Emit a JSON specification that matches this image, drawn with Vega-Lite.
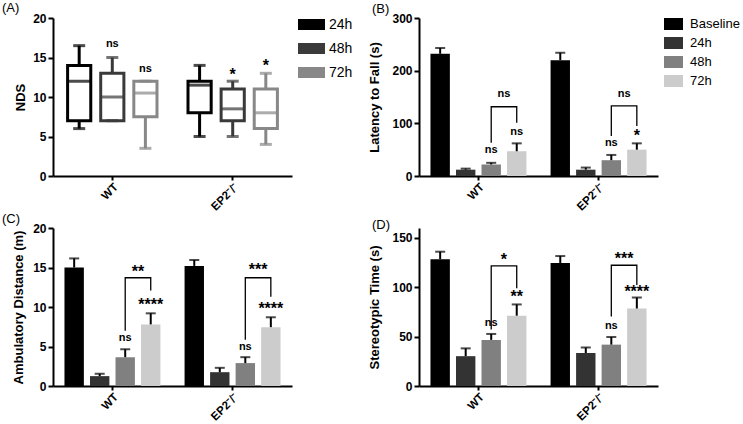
{
  "$schema": "https://vega.github.io/schema/vega-lite/v6.json",
  "background": "white",
  "padding": {"left": 2, "top": 2, "right": 0, "bottom": 0},
  "columns": 2,
  "spacing": {"row": 52, "column": 127},
  "bounds": "flush",
  "resolve": {"scale": {"color": "independent", "xOffset": "independent"}, "legend": {"color": "independent"}},
  "config": {
    "font": "Liberation Sans",
    "view": {"stroke": null},
    "axis": {"grid": false, "domainColor": "black", "domainWidth": 2, "tickColor": "black", "tickWidth": 2, "tickSize": 5, "labelColor": "black", "labelFont": "Liberation Sans", "labelFontWeight": "bold", "labelFontSize": 12, "labelPadding": 2, "labelOverlap": false, "titleFont": "Liberation Sans", "titleFontWeight": "bold", "titleFontSize": 13, "titleColor": "black", "titlePadding": 6},
    "axisX": {"tickSize": 4, "labelPadding": 1, "labelFontSize": 11.5},
    "title": {"font": "Liberation Sans", "fontSize": 13, "fontWeight": "normal", "color": "black", "anchor": "start", "frame": "group", "offset": -4},
    "legend": {"labelFont": "Liberation Sans", "labelColor": "black"}
  },
  "datasets": {
    "boxA": [
      {"g": "WT", "t": "24h", "min": 6, "q1": 7, "med": 12, "q3": 14, "max": 16.5},
      {"g": "WT", "t": "48h", "min": 7, "q1": 7, "med": 10, "q3": 13, "max": 15},
      {"g": "WT", "t": "72h", "min": 3.5, "q1": 7.5, "med": 10.5, "q3": 12, "max": 12},
      {"g": "EP2⁻/⁻", "t": "24h", "min": 5, "q1": 8, "med": 11.5, "q3": 12, "max": 14},
      {"g": "EP2⁻/⁻", "t": "48h", "min": 5, "q1": 7, "med": 8.5, "q3": 11, "max": 12},
      {"g": "EP2⁻/⁻", "t": "72h", "min": 4, "q1": 6, "med": 8, "q3": 11, "max": 13}
    ],
    "annA": [
      {"g": "WT", "t": "48h", "y": 16.7, "label": "ns"},
      {"g": "WT", "t": "72h", "y": 13.5, "label": "ns"},
      {"g": "EP2⁻/⁻", "t": "48h", "y": 13.35, "label": "*"},
      {"g": "EP2⁻/⁻", "t": "72h", "y": 14.4, "label": "*"}
    ],
    "barB": [
      {"g": "WT", "t": "Baseline", "mean": 232, "upper": 243},
      {"g": "WT", "t": "24h", "mean": 12, "upper": 14},
      {"g": "WT", "t": "48h", "mean": 22, "upper": 25},
      {"g": "WT", "t": "72h", "mean": 47, "upper": 62},
      {"g": "EP2⁻/⁻", "t": "Baseline", "mean": 220, "upper": 234},
      {"g": "EP2⁻/⁻", "t": "24h", "mean": 12, "upper": 16},
      {"g": "EP2⁻/⁻", "t": "48h", "mean": 30, "upper": 40},
      {"g": "EP2⁻/⁻", "t": "72h", "mean": 50, "upper": 62}
    ],
    "annB": [
      {"g": "WT", "t": "48h", "y": 49, "label": "ns", "cmp": "bar"},
      {"g": "WT", "t": "72h", "y": 84, "label": "ns", "cmp": "bar"},
      {"g": "WT", "t": "72h", "y": 155, "label": "ns", "cmp": "bracket"},
      {"g": "EP2⁻/⁻", "t": "48h", "y": 62, "label": "ns", "cmp": "bar"},
      {"g": "EP2⁻/⁻", "t": "72h", "y": 84, "label": "*", "cmp": "bar"},
      {"g": "EP2⁻/⁻", "t": "72h", "y": 155, "label": "ns", "cmp": "bracket"}
    ],
    "brB": [
      {"g": "WT", "t": "48h", "y": 63, "ord": 1},
      {"g": "WT", "t": "48h", "y": 131.5, "ord": 2},
      {"g": "WT", "t": "72h", "y": 131.5, "ord": 3},
      {"g": "WT", "t": "72h", "y": 101, "ord": 4},
      {"g": "EP2⁻/⁻", "t": "48h", "y": 76, "ord": 1},
      {"g": "EP2⁻/⁻", "t": "48h", "y": 133, "ord": 2},
      {"g": "EP2⁻/⁻", "t": "72h", "y": 133, "ord": 3},
      {"g": "EP2⁻/⁻", "t": "72h", "y": 95, "ord": 4}
    ],
    "barC": [
      {"g": "WT", "t": "Baseline", "mean": 15.0, "upper": 16.15},
      {"g": "WT", "t": "24h", "mean": 1.25, "upper": 1.55},
      {"g": "WT", "t": "48h", "mean": 3.65, "upper": 4.65},
      {"g": "WT", "t": "72h", "mean": 7.8, "upper": 9.2},
      {"g": "EP2⁻/⁻", "t": "Baseline", "mean": 15.2, "upper": 15.95},
      {"g": "EP2⁻/⁻", "t": "24h", "mean": 1.75, "upper": 2.3},
      {"g": "EP2⁻/⁻", "t": "48h", "mean": 2.9, "upper": 3.65},
      {"g": "EP2⁻/⁻", "t": "72h", "mean": 7.45, "upper": 8.7}
    ],
    "annC": [
      {"g": "WT", "t": "48h", "y": 6.1, "label": "ns", "cmp": "bar"},
      {"g": "WT", "t": "72h", "y": 10.7, "label": "****", "cmp": "bar"},
      {"g": "WT", "t": "72h", "y": 15.0, "label": "**", "cmp": "bracket"},
      {"g": "EP2⁻/⁻", "t": "48h", "y": 5.0, "label": "ns", "cmp": "bar"},
      {"g": "EP2⁻/⁻", "t": "72h", "y": 10.2, "label": "****", "cmp": "bar"},
      {"g": "EP2⁻/⁻", "t": "72h", "y": 15.2, "label": "***", "cmp": "bracket"}
    ],
    "brC": [
      {"g": "WT", "t": "48h", "y": 7.0, "ord": 1},
      {"g": "WT", "t": "48h", "y": 13.7, "ord": 2},
      {"g": "WT", "t": "72h", "y": 13.7, "ord": 3},
      {"g": "WT", "t": "72h", "y": 12.1, "ord": 4},
      {"g": "EP2⁻/⁻", "t": "48h", "y": 5.85, "ord": 1},
      {"g": "EP2⁻/⁻", "t": "48h", "y": 13.7, "ord": 2},
      {"g": "EP2⁻/⁻", "t": "72h", "y": 13.7, "ord": 3},
      {"g": "EP2⁻/⁻", "t": "72h", "y": 11.3, "ord": 4}
    ],
    "barD": [
      {"g": "WT", "t": "Baseline", "mean": 128.4, "upper": 136},
      {"g": "WT", "t": "24h", "mean": 30.2, "upper": 38.1},
      {"g": "WT", "t": "48h", "mean": 46.7, "upper": 52.7},
      {"g": "WT", "t": "72h", "mean": 71.2, "upper": 82.6},
      {"g": "EP2⁻/⁻", "t": "Baseline", "mean": 124.6, "upper": 131.6},
      {"g": "EP2⁻/⁻", "t": "24h", "mean": 33.4, "upper": 39},
      {"g": "EP2⁻/⁻", "t": "48h", "mean": 41.9, "upper": 49.6},
      {"g": "EP2⁻/⁻", "t": "72h", "mean": 78.5, "upper": 89.6}
    ],
    "annD": [
      {"g": "WT", "t": "48h", "y": 63.5, "label": "ns", "cmp": "bar"},
      {"g": "WT", "t": "72h", "y": 93.7, "label": "**", "cmp": "bar"},
      {"g": "WT", "t": "72h", "y": 131.9, "label": "*", "cmp": "bracket"},
      {"g": "EP2⁻/⁻", "t": "48h", "y": 61, "label": "ns", "cmp": "bar"},
      {"g": "EP2⁻/⁻", "t": "72h", "y": 99, "label": "****", "cmp": "bar"},
      {"g": "EP2⁻/⁻", "t": "72h", "y": 132.8, "label": "***", "cmp": "bracket"}
    ],
    "brD": [
      {"g": "WT", "t": "48h", "y": 57.2, "ord": 1},
      {"g": "WT", "t": "48h", "y": 121.7, "ord": 2},
      {"g": "WT", "t": "72h", "y": 121.7, "ord": 3},
      {"g": "WT", "t": "72h", "y": 99, "ord": 4},
      {"g": "EP2⁻/⁻", "t": "48h", "y": 70.5, "ord": 1},
      {"g": "EP2⁻/⁻", "t": "48h", "y": 122.3, "ord": 2},
      {"g": "EP2⁻/⁻", "t": "72h", "y": 122.3, "ord": 3},
      {"g": "EP2⁻/⁻", "t": "72h", "y": 102.3, "ord": 4}
    ]
  },
  "concat": [
    {
      "width": 239, "height": 158,
      "title": {"text": "(A)", "dx": -51},
      "encoding": {
        "x": {"field": "g", "type": "nominal", "scale": {"domain": ["WT", "EP2⁻/⁻"], "paddingInner": 0.175, "paddingOuter": 0.08}, "axis": {"title": null, "labelAngle": -45}},
        "xOffset": {"field": "t", "type": "nominal", "scale": {"domain": ["24h", "48h", "72h"], "paddingInner": 0.3, "paddingOuter": 0.15}}
      },
      "layer": [
        {
          "data": {"name": "boxA"},
          "mark": {"type": "bar", "filled": false, "strokeWidth": 3},
          "encoding": {
            "y": {"field": "q1", "type": "quantitative", "title": "NDS", "scale": {"domain": [0, 20]}, "axis": {"values": [0, 5, 10, 15, 20], "titlePadding": 5}},
            "y2": {"field": "q3"},
            "color": {"field": "t", "type": "nominal", "scale": {"domain": ["24h", "48h", "72h"], "range": ["#000000", "#3a3a3a", "#888888"]},
              "legend": {"title": null, "orient": "none", "legendX": 245, "legendY": -7, "symbolType": "M-1,-0.33H1V0.33H-1Z", "symbolSize": 576, "symbolStrokeWidth": 3, "symbolFillColor": "white", "labelFontSize": 14, "labelOffset": 4, "rowPadding": -0.5}}
          }
        },
        {
          "data": {"name": "boxA"},
          "mark": {"type": "rule", "strokeWidth": 3},
          "encoding": {"y": {"field": "min", "type": "quantitative", "title": "NDS", "axis": {"values": [0, 5, 10, 15, 20], "titlePadding": 5}}, "y2": {"field": "q1"}, "color": {"field": "t", "type": "nominal", "legend": null}}
        },
        {
          "data": {"name": "boxA"},
          "mark": {"type": "rule", "strokeWidth": 3},
          "encoding": {"y": {"field": "q3", "type": "quantitative", "title": "NDS", "axis": {"values": [0, 5, 10, 15, 20], "titlePadding": 5}}, "y2": {"field": "max"}, "color": {"field": "t", "type": "nominal", "legend": null}}
        },
        {
          "data": {"name": "boxA"},
          "mark": {"type": "tick", "thickness": 3, "size": 23},
          "encoding": {"y": {"field": "med", "type": "quantitative", "title": "NDS", "axis": {"values": [0, 5, 10, 15, 20], "titlePadding": 5}}, "color": {"field": "t", "type": "nominal", "legend": null}}
        },
        {
          "data": {"name": "boxA"},
          "mark": {"type": "tick", "thickness": 3, "size": 12},
          "encoding": {"y": {"field": "min", "type": "quantitative", "title": "NDS", "axis": {"values": [0, 5, 10, 15, 20], "titlePadding": 5}}, "color": {"field": "t", "type": "nominal", "legend": null}}
        },
        {
          "data": {"name": "boxA"},
          "mark": {"type": "tick", "thickness": 3, "size": 12},
          "encoding": {"y": {"field": "max", "type": "quantitative", "title": "NDS", "axis": {"values": [0, 5, 10, 15, 20], "titlePadding": 5}}, "color": {"field": "t", "type": "nominal", "legend": null}}
        },
        {
          "data": {"name": "annA"},
          "transform": [{"filter": "datum.label === 'ns'"}],
          "mark": {"type": "text", "fontSize": 11, "fontWeight": "bold", "baseline": "middle", "color": "black"},
          "encoding": {"y": {"field": "y", "type": "quantitative", "title": "NDS", "axis": {"values": [0, 5, 10, 15, 20], "titlePadding": 5}}, "text": {"field": "label"}}
        },
        {
          "data": {"name": "annA"},
          "transform": [{"filter": "datum.label !== 'ns'"}],
          "mark": {"type": "text", "fontSize": 16, "fontWeight": "bold", "baseline": "middle", "dy": 4, "color": "black"},
          "encoding": {"y": {"field": "y", "type": "quantitative", "title": "NDS", "axis": {"values": [0, 5, 10, 15, 20], "titlePadding": 5}}, "text": {"field": "label"}}
        }
      ]
    },
    {
      "width": 239, "height": 158,
      "title": {"text": "(B)", "dx": -47},
      "encoding": {
        "x": {"field": "g", "type": "nominal", "scale": {"domain": ["WT", "EP2⁻/⁻"], "paddingInner": 0.15, "paddingOuter": 0.07}, "axis": {"title": null, "labelAngle": -45}},
        "xOffset": {"field": "t", "type": "nominal", "scale": {"domain": ["Baseline", "24h", "48h", "72h"], "paddingInner": 0.24, "paddingOuter": 0.12}}
      },
      "layer": [
        {
          "data": {"name": "barB"},
          "mark": {"type": "bar"},
          "encoding": {
            "y": {"field": "mean", "type": "quantitative", "title": "Latency to Fall (s)", "scale": {"domain": [0, 300]}, "axis": {"values": [0, 100, 200, 300], "titlePadding": 10}},
            "color": {"field": "t", "type": "nominal", "scale": {"domain": ["Baseline", "24h", "48h", "72h"], "range": ["#000000", "#333333", "#808080", "#cccccc"]},
              "legend": {"title": null, "orient": "none", "legendX": 245, "legendY": -3.5, "symbolType": "M-1,-0.63H1V0.63H-1Z", "symbolSize": 361, "symbolStrokeWidth": 0, "labelFontSize": 13, "labelOffset": 7, "rowPadding": 2}}
          }
        },
        {
          "data": {"name": "barB"},
          "mark": {"type": "rule", "color": "black", "strokeWidth": 2},
          "encoding": {"y": {"field": "mean", "type": "quantitative", "title": "Latency to Fall (s)", "axis": {"values": [0, 100, 200, 300], "titlePadding": 10}}, "y2": {"field": "upper"}}
        },
        {
          "data": {"name": "barB"},
          "mark": {"type": "tick", "color": "black", "thickness": 2, "size": 10},
          "encoding": {"y": {"field": "upper", "type": "quantitative", "title": "Latency to Fall (s)", "axis": {"values": [0, 100, 200, 300], "titlePadding": 10}}}
        },
        {
          "data": {"name": "brB"},
          "mark": {"type": "line", "color": "black", "strokeWidth": 1.3},
          "encoding": {"y": {"field": "y", "type": "quantitative", "title": "Latency to Fall (s)", "axis": {"values": [0, 100, 200, 300], "titlePadding": 10}}, "detail": {"field": "g"}, "order": {"field": "ord"}}
        },
        {
          "data": {"name": "annB"},
          "transform": [{"filter": "datum.cmp === 'bar' && datum.label === 'ns'"}],
          "mark": {"type": "text", "fontSize": 11, "fontWeight": "bold", "baseline": "middle", "color": "black"},
          "encoding": {"y": {"field": "y", "type": "quantitative", "title": "Latency to Fall (s)", "axis": {"values": [0, 100, 200, 300], "titlePadding": 10}}, "text": {"field": "label"}}
        },
        {
          "data": {"name": "annB"},
          "transform": [{"filter": "datum.cmp === 'bar' && datum.label !== 'ns'"}],
          "mark": {"type": "text", "fontSize": 16, "fontWeight": "bold", "baseline": "middle", "dy": 4, "color": "black"},
          "encoding": {"y": {"field": "y", "type": "quantitative", "title": "Latency to Fall (s)", "axis": {"values": [0, 100, 200, 300], "titlePadding": 10}}, "text": {"field": "label"}}
        },
        {
          "data": {"name": "annB"},
          "transform": [{"filter": "datum.cmp === 'bracket'"}],
          "mark": {"type": "text", "fontSize": 11, "fontWeight": "bold", "baseline": "middle", "dx": -12.75, "color": "black"},
          "encoding": {"y": {"field": "y", "type": "quantitative", "title": "Latency to Fall (s)", "axis": {"values": [0, 100, 200, 300], "titlePadding": 10}}, "text": {"field": "label"}}
        }
      ]
    },
    {
      "width": 239, "height": 158,
      "title": {"text": "(C)", "dx": -51},
      "encoding": {
        "x": {"field": "g", "type": "nominal", "scale": {"domain": ["WT", "EP2⁻/⁻"], "paddingInner": 0.15, "paddingOuter": 0.07}, "axis": {"title": null, "labelAngle": -45}},
        "xOffset": {"field": "t", "type": "nominal", "scale": {"domain": ["Baseline", "24h", "48h", "72h"], "paddingInner": 0.24, "paddingOuter": 0.12}}
      },
      "layer": [
        {
          "data": {"name": "barC"},
          "mark": {"type": "bar"},
          "encoding": {
            "y": {"field": "mean", "type": "quantitative", "title": "Ambulatory Distance (m)", "scale": {"domain": [0, 20]}, "axis": {"values": [0, 5, 10, 15, 20], "titlePadding": 7}},
            "color": {"field": "t", "type": "nominal", "scale": {"domain": ["Baseline", "24h", "48h", "72h"], "range": ["#000000", "#333333", "#808080", "#cccccc"]}, "legend": null}
          }
        },
        {
          "data": {"name": "barC"},
          "mark": {"type": "rule", "color": "black", "strokeWidth": 2},
          "encoding": {"y": {"field": "mean", "type": "quantitative", "title": "Ambulatory Distance (m)", "axis": {"values": [0, 5, 10, 15, 20], "titlePadding": 7}}, "y2": {"field": "upper"}}
        },
        {
          "data": {"name": "barC"},
          "mark": {"type": "tick", "color": "black", "thickness": 2, "size": 10},
          "encoding": {"y": {"field": "upper", "type": "quantitative", "title": "Ambulatory Distance (m)", "axis": {"values": [0, 5, 10, 15, 20], "titlePadding": 7}}}
        },
        {
          "data": {"name": "brC"},
          "mark": {"type": "line", "color": "black", "strokeWidth": 1.3},
          "encoding": {"y": {"field": "y", "type": "quantitative", "title": "Ambulatory Distance (m)", "axis": {"values": [0, 5, 10, 15, 20], "titlePadding": 7}}, "detail": {"field": "g"}, "order": {"field": "ord"}}
        },
        {
          "data": {"name": "annC"},
          "transform": [{"filter": "datum.cmp === 'bar' && datum.label === 'ns'"}],
          "mark": {"type": "text", "fontSize": 11, "fontWeight": "bold", "baseline": "middle", "color": "black"},
          "encoding": {"y": {"field": "y", "type": "quantitative", "title": "Ambulatory Distance (m)", "axis": {"values": [0, 5, 10, 15, 20], "titlePadding": 7}}, "text": {"field": "label"}}
        },
        {
          "data": {"name": "annC"},
          "transform": [{"filter": "datum.cmp === 'bar' && datum.label !== 'ns'"}],
          "mark": {"type": "text", "fontSize": 16, "fontWeight": "bold", "baseline": "middle", "dy": 4, "color": "black"},
          "encoding": {"y": {"field": "y", "type": "quantitative", "title": "Ambulatory Distance (m)", "axis": {"values": [0, 5, 10, 15, 20], "titlePadding": 7}}, "text": {"field": "label"}}
        },
        {
          "data": {"name": "annC"},
          "transform": [{"filter": "datum.cmp === 'bracket'"}],
          "mark": {"type": "text", "fontSize": 16, "fontWeight": "bold", "baseline": "middle", "dy": 4, "dx": -12.75, "color": "black"},
          "encoding": {"y": {"field": "y", "type": "quantitative", "title": "Ambulatory Distance (m)", "axis": {"values": [0, 5, 10, 15, 20], "titlePadding": 7}}, "text": {"field": "label"}}
        }
      ]
    },
    {
      "width": 239, "height": 158,
      "title": {"text": "(D)", "dx": -47},
      "encoding": {
        "x": {"field": "g", "type": "nominal", "scale": {"domain": ["WT", "EP2⁻/⁻"], "paddingInner": 0.15, "paddingOuter": 0.07}, "axis": {"title": null, "labelAngle": -45}},
        "xOffset": {"field": "t", "type": "nominal", "scale": {"domain": ["Baseline", "24h", "48h", "72h"], "paddingInner": 0.24, "paddingOuter": 0.12}}
      },
      "layer": [
        {
          "data": {"name": "barD"},
          "mark": {"type": "bar"},
          "encoding": {
            "y": {"field": "mean", "type": "quantitative", "title": "Stereotypic Time (s)", "scale": {"domain": [0, 150]}, "axis": {"values": [0, 50, 100, 150], "titlePadding": 10}},
            "color": {"field": "t", "type": "nominal", "scale": {"domain": ["Baseline", "24h", "48h", "72h"], "range": ["#000000", "#333333", "#808080", "#cccccc"]}, "legend": null}
          }
        },
        {
          "data": {"name": "barD"},
          "mark": {"type": "rule", "color": "black", "strokeWidth": 2},
          "encoding": {"y": {"field": "mean", "type": "quantitative", "title": "Stereotypic Time (s)", "axis": {"values": [0, 50, 100, 150], "titlePadding": 10}}, "y2": {"field": "upper"}}
        },
        {
          "data": {"name": "barD"},
          "mark": {"type": "tick", "color": "black", "thickness": 2, "size": 10},
          "encoding": {"y": {"field": "upper", "type": "quantitative", "title": "Stereotypic Time (s)", "axis": {"values": [0, 50, 100, 150], "titlePadding": 10}}}
        },
        {
          "data": {"name": "brD"},
          "mark": {"type": "line", "color": "black", "strokeWidth": 1.3},
          "encoding": {"y": {"field": "y", "type": "quantitative", "title": "Stereotypic Time (s)", "axis": {"values": [0, 50, 100, 150], "titlePadding": 10}}, "detail": {"field": "g"}, "order": {"field": "ord"}}
        },
        {
          "data": {"name": "annD"},
          "transform": [{"filter": "datum.cmp === 'bar' && datum.label === 'ns'"}],
          "mark": {"type": "text", "fontSize": 11, "fontWeight": "bold", "baseline": "middle", "color": "black"},
          "encoding": {"y": {"field": "y", "type": "quantitative", "title": "Stereotypic Time (s)", "axis": {"values": [0, 50, 100, 150], "titlePadding": 10}}, "text": {"field": "label"}}
        },
        {
          "data": {"name": "annD"},
          "transform": [{"filter": "datum.cmp === 'bar' && datum.label !== 'ns'"}],
          "mark": {"type": "text", "fontSize": 16, "fontWeight": "bold", "baseline": "middle", "dy": 4, "color": "black"},
          "encoding": {"y": {"field": "y", "type": "quantitative", "title": "Stereotypic Time (s)", "axis": {"values": [0, 50, 100, 150], "titlePadding": 10}}, "text": {"field": "label"}}
        },
        {
          "data": {"name": "annD"},
          "transform": [{"filter": "datum.cmp === 'bracket'"}],
          "mark": {"type": "text", "fontSize": 16, "fontWeight": "bold", "baseline": "middle", "dy": 4, "dx": -12.75, "color": "black"},
          "encoding": {"y": {"field": "y", "type": "quantitative", "title": "Stereotypic Time (s)", "axis": {"values": [0, 50, 100, 150], "titlePadding": 10}}, "text": {"field": "label"}}
        }
      ]
    }
  ]
}
